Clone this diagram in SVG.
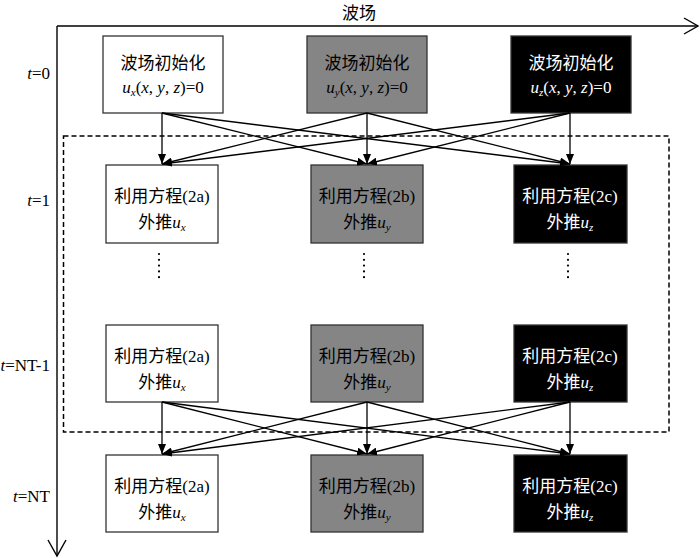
<svg xmlns="http://www.w3.org/2000/svg" width="700" height="558" viewBox="0 0 700 558">
<defs>
<marker id="ah" markerUnits="userSpaceOnUse" markerWidth="10" markerHeight="8" refX="10" refY="4" orient="auto">
<path d="M0,0 L10,4 L0,8 z" fill="#000"/>
</marker>
<style>
text{font-family:"Liberation Serif","Noto Sans CJK SC",serif;font-size:17px;fill:#000}
.c{text-anchor:middle}
.r{text-anchor:end}
.w{fill:#fff}
.i{font-style:italic}
.s{font-size:11px;font-style:italic}
.box{stroke:#333;stroke-width:1.3}
.wb{fill:#fff}
.gb{fill:#858585}
.kb{fill:#000}
.conn line{stroke:#000;stroke-width:1.3;marker-end:url(#ah)}
.dots{stroke:#000;stroke-width:2.2;stroke-linecap:round;stroke-dasharray:0 5.8}
</style>
</defs>
<rect width="700" height="558" fill="#fff"/>

<g id="axes" fill="none" stroke="#000" stroke-width="1.4">
<path d="M57,26 H698"/>
<path d="M684,18 L698,26 L684,34"/>
<path d="M57,26 V556"/>
<path d="M48,540 L57,556 L66,540"/>
</g>
<text class="c" x="359" y="19">波场</text>

<g id="labels">
<text class="r" x="50" y="79"><tspan class="i">t</tspan>=0</text>
<text class="r" x="50" y="206"><tspan class="i">t</tspan>=1</text>
<text class="r" x="50" y="371"><tspan class="i">t</tspan>=NT-1</text>
<text class="r" x="50" y="502"><tspan class="i">t</tspan>=NT</text>
</g>

<rect id="loop" x="63.5" y="136" width="605.5" height="296" fill="none" stroke="#000" stroke-width="1.5" stroke-dasharray="5 3"/>

<g id="init-x">
<rect class="box wb" x="103" y="36" width="120" height="77"/>
<text class="c" x="163" y="69">波场初始化</text>
<text class="c" x="163" y="93"><tspan class="i">u</tspan><tspan class="s" dy="3">x</tspan><tspan dy="-3">(</tspan><tspan class="i">x</tspan>, <tspan class="i">y</tspan>, <tspan class="i">z</tspan>)=0</text>
</g>
<g id="init-y">
<rect class="box gb" x="307" y="36" width="120" height="77"/>
<text class="c" x="367" y="69">波场初始化</text>
<text class="c" x="367" y="93"><tspan class="i">u</tspan><tspan class="s" dy="3">y</tspan><tspan dy="-3">(</tspan><tspan class="i">x</tspan>, <tspan class="i">y</tspan>, <tspan class="i">z</tspan>)=0</text>
</g>
<g id="init-z">
<rect class="box kb" x="511" y="36" width="120" height="77"/>
<text class="c w" x="571" y="69">波场初始化</text>
<text class="c w" x="571" y="93"><tspan class="i">u</tspan><tspan class="s w" dy="3">z</tspan><tspan dy="-3">(</tspan><tspan class="i">x</tspan>, <tspan class="i">y</tspan>, <tspan class="i">z</tspan>)=0</text>
</g>

<g id="t1-x">
<rect class="box wb" x="106" y="165" width="112" height="78"/>
<text class="c" x="162" y="202">利用方程(2a)</text>
<text class="c" x="162" y="228">外推<tspan class="i">u</tspan><tspan class="s" dy="3">x</tspan></text>
</g>
<g id="t1-y">
<rect class="box gb" x="311" y="165" width="112" height="78"/>
<text class="c" x="367" y="202">利用方程(2b)</text>
<text class="c" x="367" y="228">外推<tspan class="i">u</tspan><tspan class="s" dy="3">y</tspan></text>
</g>
<g id="t1-z">
<rect class="box kb" x="514" y="165" width="113" height="78"/>
<text class="c w" x="570" y="202">利用方程(2c)</text>
<text class="c w" x="570" y="228">外推<tspan class="i">u</tspan><tspan class="s w" dy="3">z</tspan></text>
</g>

<g id="ellipsis">
<line class="dots" x1="159" y1="254" x2="159" y2="283"/>
<line class="dots" x1="364" y1="254" x2="364" y2="283"/>
<line class="dots" x1="568" y1="254" x2="568" y2="283"/>
</g>

<g id="tNT1-x">
<rect class="box wb" x="106" y="325" width="112" height="77"/>
<text class="c" x="162" y="362">利用方程(2a)</text>
<text class="c" x="162" y="388">外推<tspan class="i">u</tspan><tspan class="s" dy="3">x</tspan></text>
</g>
<g id="tNT1-y">
<rect class="box gb" x="311" y="325" width="112" height="77"/>
<text class="c" x="367" y="362">利用方程(2b)</text>
<text class="c" x="367" y="388">外推<tspan class="i">u</tspan><tspan class="s" dy="3">y</tspan></text>
</g>
<g id="tNT1-z">
<rect class="box kb" x="514" y="325" width="113" height="77"/>
<text class="c w" x="570" y="362">利用方程(2c)</text>
<text class="c w" x="570" y="388">外推<tspan class="i">u</tspan><tspan class="s w" dy="3">z</tspan></text>
</g>

<g id="tNT-x">
<rect class="box wb" x="106" y="455" width="112" height="77"/>
<text class="c" x="162" y="492">利用方程(2a)</text>
<text class="c" x="162" y="518">外推<tspan class="i">u</tspan><tspan class="s" dy="3">x</tspan></text>
</g>
<g id="tNT-y">
<rect class="box gb" x="311" y="455" width="112" height="77"/>
<text class="c" x="367" y="492">利用方程(2b)</text>
<text class="c" x="367" y="518">外推<tspan class="i">u</tspan><tspan class="s" dy="3">y</tspan></text>
</g>
<g id="tNT-z">
<rect class="box kb" x="514" y="455" width="113" height="77"/>
<text class="c w" x="570" y="492">利用方程(2c)</text>
<text class="c w" x="570" y="518">外推<tspan class="i">u</tspan><tspan class="s w" dy="3">z</tspan></text>
</g>

<g id="connectors" class="conn">
<line x1="162" y1="113" x2="162" y2="164"/>
<line x1="162" y1="113" x2="367" y2="164"/>
<line x1="162" y1="113" x2="570" y2="164"/>
<line x1="367" y1="113" x2="162" y2="164"/>
<line x1="367" y1="113" x2="367" y2="164"/>
<line x1="367" y1="113" x2="570" y2="164"/>
<line x1="570" y1="113" x2="162" y2="164"/>
<line x1="570" y1="113" x2="367" y2="164"/>
<line x1="570" y1="113" x2="570" y2="164"/>
<line x1="162" y1="402" x2="162" y2="454"/>
<line x1="162" y1="402" x2="367" y2="454"/>
<line x1="162" y1="402" x2="570" y2="454"/>
<line x1="367" y1="402" x2="162" y2="454"/>
<line x1="367" y1="402" x2="367" y2="454"/>
<line x1="367" y1="402" x2="570" y2="454"/>
<line x1="570" y1="402" x2="162" y2="454"/>
<line x1="570" y1="402" x2="367" y2="454"/>
<line x1="570" y1="402" x2="570" y2="454"/>
</g>
</svg>
